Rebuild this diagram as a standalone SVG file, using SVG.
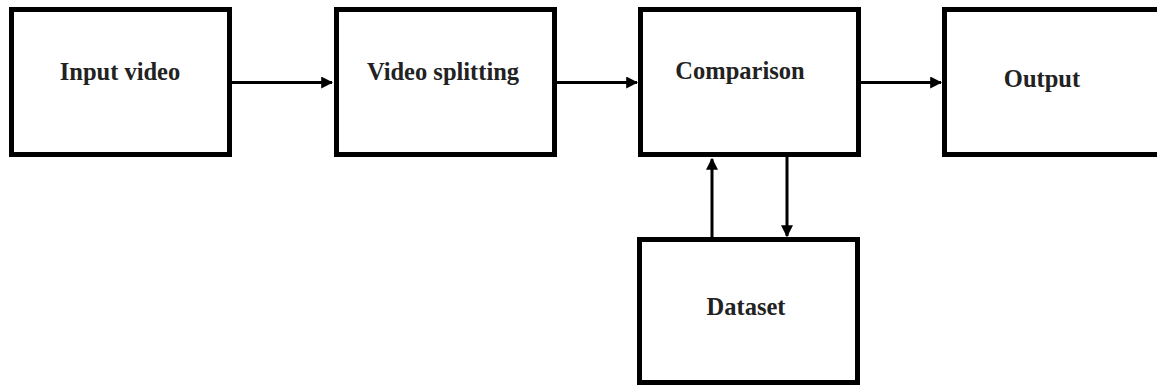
<svg xmlns="http://www.w3.org/2000/svg" width="1157" height="386" viewBox="0 0 1157 386">
<style>
.box{fill:#fff;stroke:#000;stroke-width:5}
.lbl{font-family:"Liberation Serif","Times New Roman",serif;font-weight:bold;font-size:24.5px;fill:#222;text-anchor:middle}
.conn{stroke:#000;stroke-width:3;fill:none;marker-end:url(#ah)}
</style>
<defs>
<marker id="ah" viewBox="0 0 10 10" refX="9" refY="5" markerWidth="4" markerHeight="4" markerUnits="strokeWidth" orient="auto">
<path d="M0,0 L10,5 L0,10 z" fill="#000"/>
</marker>
</defs>
<rect width="1157" height="386" fill="#fff"/>
<g id="input-video"><rect class="box" x="11.5" y="9.5" width="218" height="145"/><text class="lbl" x="120" y="80">Input video</text></g>
<g id="video-splitting"><rect class="box" x="336.5" y="9.5" width="218" height="145"/><text class="lbl" x="443" y="80">Video splitting</text></g>
<g id="comparison"><rect class="box" x="640.5" y="9.5" width="218" height="145"/><text class="lbl" x="740" y="79">Comparison</text></g>
<g id="output"><rect class="box" x="944.5" y="9.5" width="240" height="145"/><text class="lbl" x="1042" y="87">Output</text></g>
<g id="dataset"><rect class="box" x="639.5" y="239.5" width="218" height="143"/><text class="lbl" x="746" y="315">Dataset</text></g>
<g id="connectors">
<line class="conn" x1="232" y1="82.5" x2="332" y2="82.5"/>
<line class="conn" x1="557" y1="82.5" x2="637" y2="82.5"/>
<line class="conn" x1="861" y1="82.5" x2="941" y2="82.5"/>
<line class="conn" x1="712" y1="237" x2="712" y2="159"/>
<line class="conn" x1="787" y1="157" x2="787" y2="236"/>
</g>
</svg>
